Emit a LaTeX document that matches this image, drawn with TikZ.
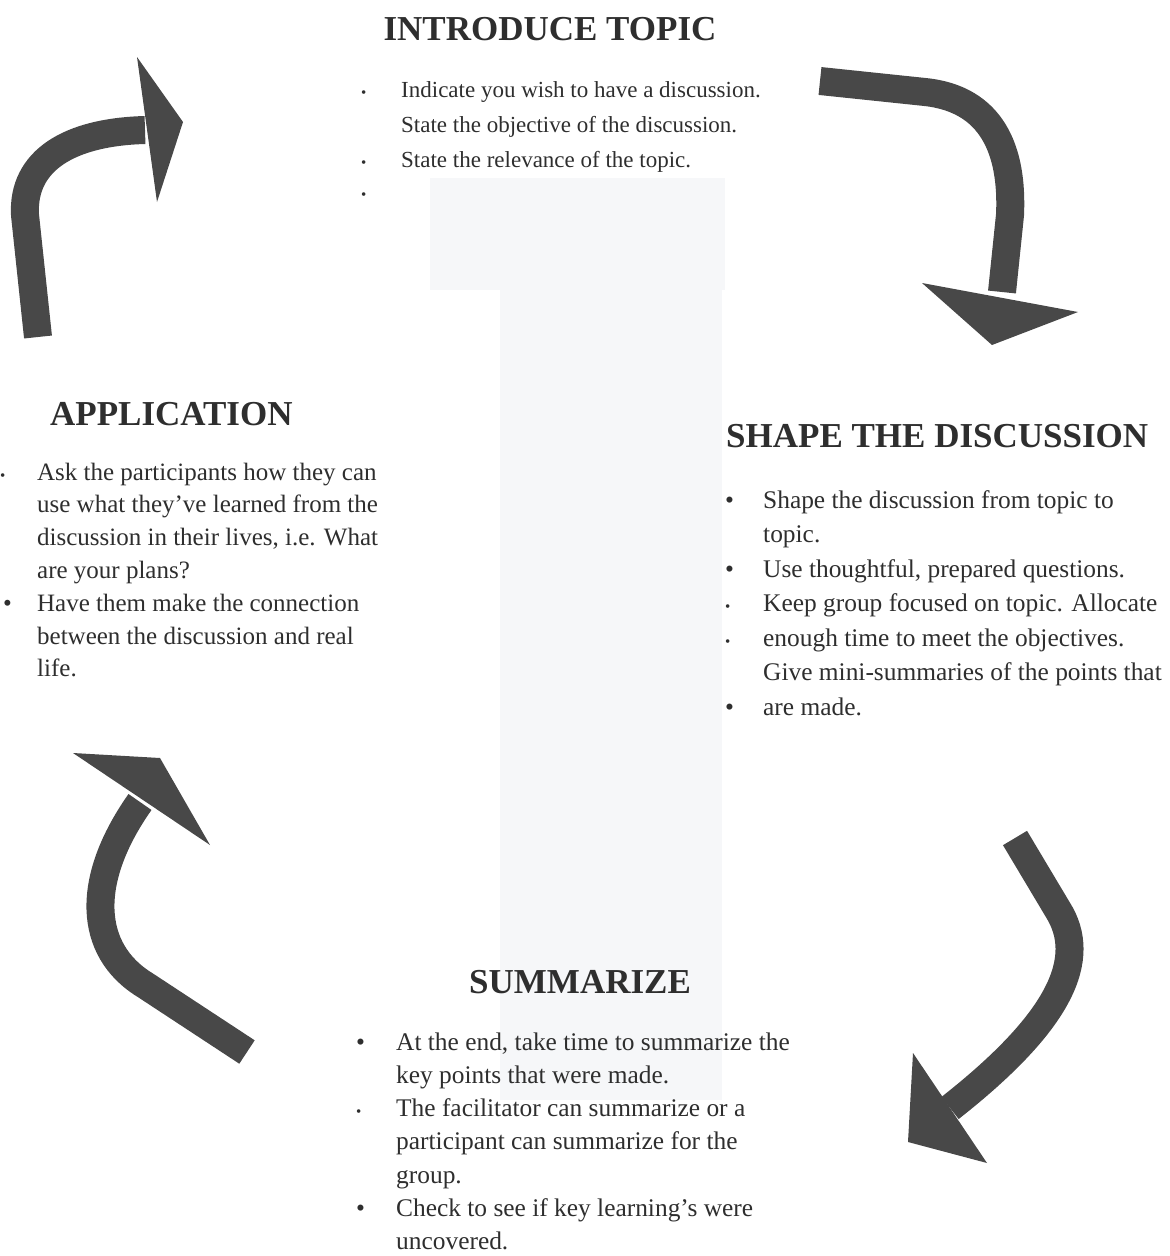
\documentclass[tikz,border=0pt]{standalone}
\usepackage{fontspec}
\setmainfont{Liberation Serif}
\usetikzlibrary{positioning}
\definecolor{ink}{HTML}{2E2E2E}
\definecolor{arw}{HTML}{484848}
\definecolor{pale}{HTML}{F6F7F9}
\newcommand{\bul}{\textbullet}
\newcommand{\sbul}{{\fontsize{15}{15}\selectfont\textbullet}}
\tikzset{
  hdg/.style={font=\fontsize{35}{40}\selectfont\bfseries, text=ink, inner sep=0pt},
  txt/.style={text=ink, anchor=base west, inner sep=0pt},
  shaft/.style={draw=arw, line width=28pt},
  ahead/.style={fill=arw}}

\begin{document}
\begin{tikzpicture}[x=1pt, y=-1pt]
\useasboundingbox (0,0) rectangle (1170,1256);
% faint backdrop of the scan
\fill[pale] (430,178) rectangle (725,290);
\fill[pale] (500,290) rectangle (722,1100);
% headings
\node[hdg, anchor=base] (intro) at (550,40) {INTRODUCE TOPIC};
\node[hdg, anchor=base west] (appl) at (50,425) {APPLICATION};
\node[hdg, anchor=base west] (shape) at (726,447) {SHAPE THE DISCUSSION};
\node[hdg, anchor=base west] (summ) at (469,993) {SUMMARIZE};
% bullet lists
\node[txt, font=\fontsize{23}{35}\selectfont] (introtxt) at (361,97) {\begin{tabular}[t]{@{}p{40pt}@{}l@{}}
\sbul & Indicate you wish to have a discussion.\\
 & State the objective of the discussion.\\
\sbul & State the relevance of the topic.\\[-3pt]
\sbul &
\end{tabular}};
\node[txt, font=\fontsize{25}{32.8}\selectfont] (appltxt) at (0,480) {\begin{tabular}[t]{@{}p{37pt}@{}l@{}}
\sbul & Ask the participants how they can\\
 & use what they've learned from the\\
 & discussion in their lives, i.e. What\\
 & are your plans?\\
\hspace{3pt}\bul & Have them make the connection\\
 & between the discussion and real\\
 & life.
\end{tabular}};
\node[txt, font=\fontsize{25.4}{34.5}\selectfont] (shapetxt) at (725,508) {\begin{tabular}[t]{@{}p{38pt}@{}l@{}}
\bul & Shape the discussion from topic to\\
 & topic.\\
\bul & Use thoughtful, prepared questions.\\
\sbul & Keep group focused on topic. Allocate\\
\sbul & enough time to meet the objectives.\\
 & Give mini-summaries of the points that\\
\bul & are made.
\end{tabular}};
\node[txt, font=\fontsize{25.4}{33.3}\selectfont] (summtxt) at (356,1050) {\begin{tabular}[t]{@{}p{40pt}@{}l@{}}
\bul & At the end, take time to summarize the\\
 & key points that were made.\\
\sbul & The facilitator can summarize or a\\
 & participant can summarize for the\\
 & group.\\
\bul & Check to see if key learning's were\\
 & uncovered.
\end{tabular}};
% cycle arrows
\draw[shaft] (38,337) -- (25,215) .. controls (22,160) and (70,132) .. (145,130);
\fill[ahead] (137,57) -- (183,122) -- (157,202) -- cycle;
\draw[shaft] (820,81) -- (925,92) .. controls (992,99) and (1013,150) .. (1010,215) -- (1002,292);
\fill[ahead] (922,283) -- (1078,312) -- (992,345) -- cycle;
\draw[shaft] (1015,838) -- (1058,910) .. controls (1088,958) and (1062,1020) .. (950,1108);
\fill[ahead] (913,1053) -- (987,1163) -- (908,1142) -- cycle;
\draw[shaft] (247,1052) -- (145,985) .. controls (88,950) and (85,880) .. (140,802);
\fill[ahead] (73,753) -- (160,758) -- (210,845) -- cycle;
\end{tikzpicture}
\end{document}
